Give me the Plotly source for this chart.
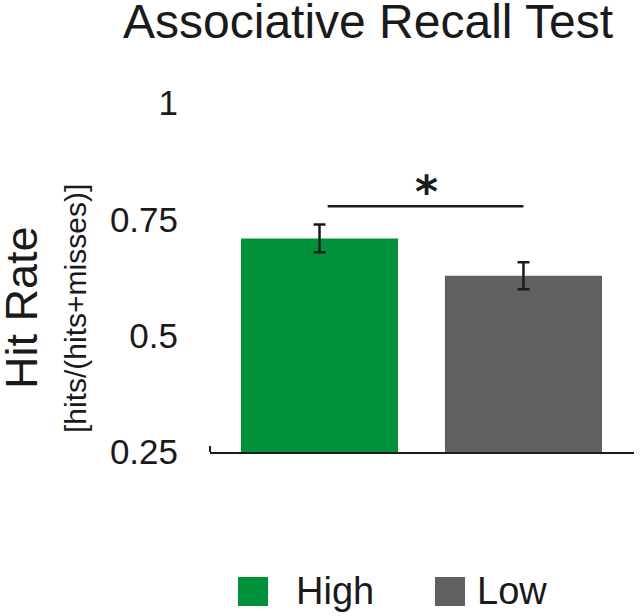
import plotly.graph_objects as go

# Data
categories = ["High", "Low"]
hit_rate = [0.709, 0.629]
sem = [0.030, 0.029]
bar_colors = ["#00923A", "#606060"]
y_ticks = [0.25, 0.5, 0.75, 1.0]
y_tick_labels = ["0.25", "0.5", "0.75", "1"]
sig_y = 0.778
sig_label = "*"

FONT = "Liberation Sans"
INK = "#1a1a1a"

fig = go.Figure()
fig.add_trace(go.Bar(
    x=[0, 1], y=hit_rate, width=0.77,
    marker=dict(color=bar_colors, line=dict(width=0)),
    error_y=dict(type="data", array=sem, visible=True, color=INK, thickness=2.5, width=6),
    showlegend=False, hoverinfo="skip",
))

W, H = 640, 616
L, R, T, B = 210, 6, 103, 164
pw, ph = W - L - R, H - T - B
def px(x):  # page pixel -> paper
    return (x - L) / pw
def py(y):
    return (H - B - y) / ph

shapes = []
annotations = []

# significance bar
shapes.append(dict(type="line", xref="x", yref="y", x0=0.04, x1=1.0, y0=sig_y, y1=sig_y,
                   line=dict(color=INK, width=2.5)))
annotations.append(dict(xref="x", yref="paper", x=0.525, y=py(191), text="<b>" + sig_label + "</b>",
                        showarrow=False, yanchor="middle",
                        font=dict(family="DejaVu Sans", size=44, color=INK)))

# small left tick on axis
shapes.append(dict(type="line", xref="paper", yref="y", x0=0.0, x1=0.0, y0=0.25, y1=0.263,
                   line=dict(color=INK, width=2)))

# title
annotations.append(dict(xref="paper", yref="paper", x=px(368), y=py(21), text="Associative Recall Test",
                        showarrow=False, xanchor="center", yanchor="middle",
                        font=dict(family=FONT, size=48, color=INK)))
# y titles
annotations.append(dict(xref="paper", yref="paper", x=px(21), y=py(308), text="Hit Rate",
                        showarrow=False, textangle=-90, xanchor="center", yanchor="middle",
                        font=dict(family=FONT, size=45, color=INK)))
annotations.append(dict(xref="paper", yref="paper", x=px(75), y=py(309), text="[hits/(hits+misses)]",
                        showarrow=False, textangle=-90, xanchor="center", yanchor="middle",
                        font=dict(family=FONT, size=30, color=INK)))

# legend (drawn)
leg_sq_x = [238, 435]
leg_txt_x = [294, 475]
for cat, col, sx, tx in zip(categories, bar_colors, leg_sq_x, leg_txt_x):
    shapes.append(dict(type="rect", xref="paper", yref="paper", x0=px(sx), x1=px(sx + 30),
                       y0=py(606), y1=py(577), fillcolor=col, line=dict(width=0)))
    annotations.append(dict(xref="paper", yref="paper", x=px(tx), y=py(591), text=cat,
                            showarrow=False, xanchor="left", yanchor="middle",
                            font=dict(family=FONT, size=38, color=INK)))

fig.update_layout(
    width=W, height=H, autosize=False,
    margin=dict(l=L, r=R, t=T, b=B),
    plot_bgcolor="white", paper_bgcolor="white",
    showlegend=False,
    shapes=shapes, annotations=annotations,
    font=dict(family=FONT, color=INK),
)
fig.update_xaxes(range=[-0.537, 1.542], showticklabels=False, ticks="", showgrid=False,
                 zeroline=False, showline=True, linecolor=INK, linewidth=2)
fig.update_yaxes(range=[0.25, 1.0], tickvals=y_ticks, ticktext=y_tick_labels, ticks="",
                 showgrid=False, zeroline=False, showline=False, ticklabelstandoff=31,
                 tickfont=dict(family=FONT, size=35, color=INK))

fig.write_html("out.html", config={"displayModeBar": False},
               post_script="document.body.style.margin='0';")
